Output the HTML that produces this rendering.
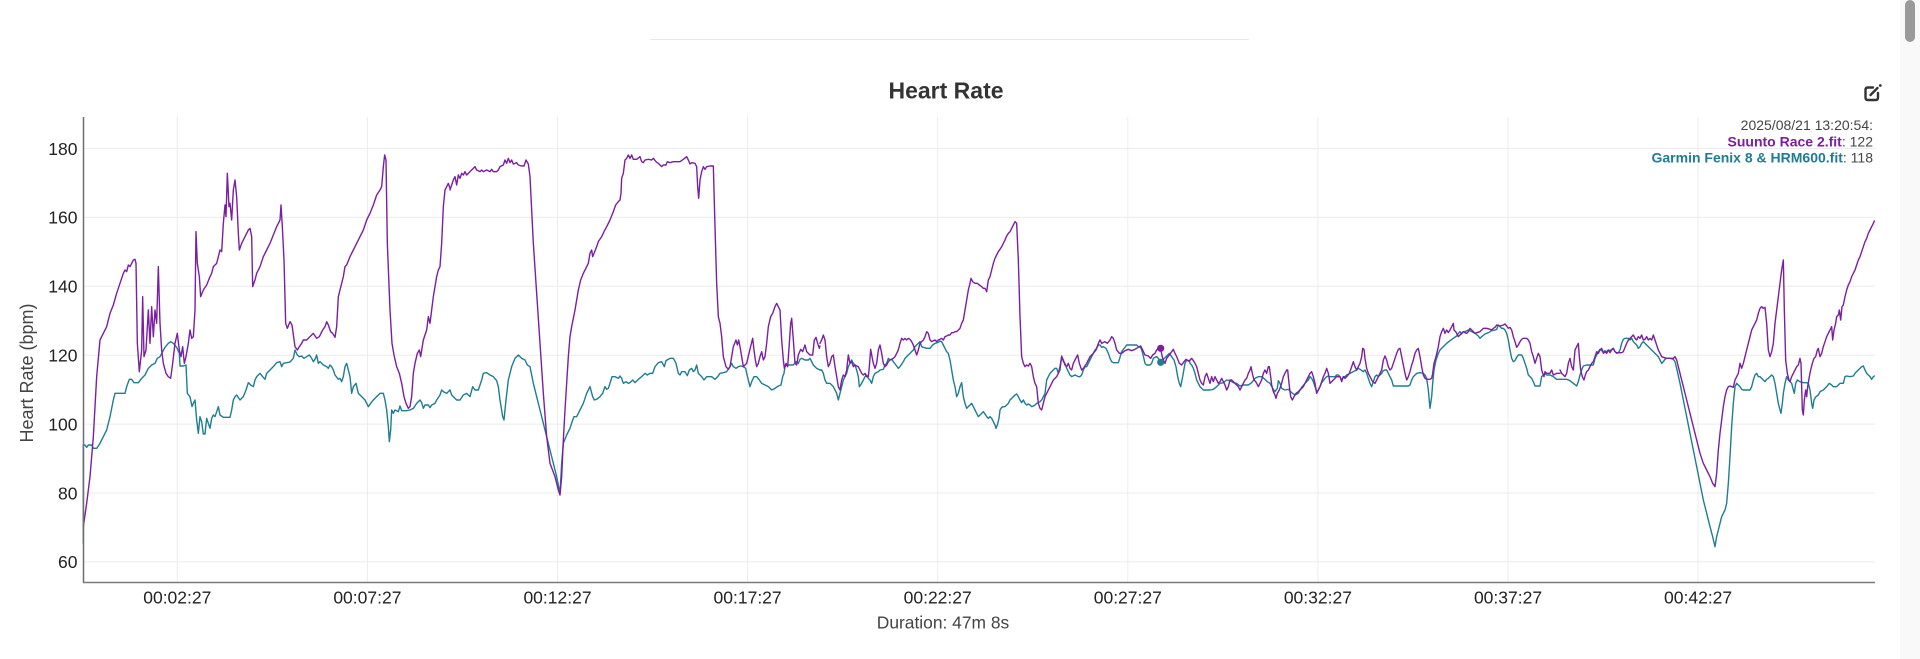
<!DOCTYPE html>
<html>
<head>
<meta charset="utf-8">
<style>
html,body{margin:0;padding:0;background:#fff;}
body{width:1920px;height:659px;overflow:hidden;font-family:"Liberation Sans",Arial,sans-serif;}
svg{display:block;}
.d{fill:none;stroke-width:1.4;stroke-linejoin:round;stroke-linecap:round;}
.p{stroke:#7b1fa2;}
.t{stroke:#1f7d91;}
</style>
</head>
<body>
<svg width="1920" height="659" viewBox="0 0 1920 659" xmlns="http://www.w3.org/2000/svg" font-family="Liberation Sans, Arial, sans-serif">
<rect x="0" y="0" width="1920" height="659" fill="#fff"/>
<!-- scrollbar strip -->
<rect x="1900" y="0" width="20" height="659" fill="#f9f9f9"/>
<rect x="1905" y="0" width="10" height="42" rx="5" fill="#9a9a9a"/>
<!-- top divider -->
<line x1="650" y1="39.5" x2="1249" y2="39.5" stroke="#e8e8e8" stroke-width="1"/>
<!-- title -->
<text x="946" y="98.3" text-anchor="middle" font-weight="bold" font-size="23" fill="#333">Heart Rate</text>
<!-- edit icon -->
<g fill="none" stroke="#333" stroke-width="2.4" stroke-linecap="round" stroke-linejoin="round">
<path d="M1873 87.5 H1868 Q1865.5 87.5 1865.5 90 V97.5 Q1865.5 100 1868 100 H1875.5 Q1878 100 1878 97.5 V93"/>
<path d="M1870.5 95 L1877.5 88"/>
</g>
<circle cx="1880.3" cy="85.5" r="1.4" fill="#333"/>
<!-- gridlines -->
<g stroke="#ececec" stroke-width="1">
<line x1="84" y1="148.5" x2="1875" y2="148.5"/>
<line x1="84" y1="217.4" x2="1875" y2="217.4"/>
<line x1="84" y1="286.3" x2="1875" y2="286.3"/>
<line x1="84" y1="355.2" x2="1875" y2="355.2"/>
<line x1="84" y1="424.1" x2="1875" y2="424.1"/>
<line x1="84" y1="493" x2="1875" y2="493"/>
<line x1="84" y1="561.9" x2="1875" y2="561.9"/>
<line x1="177.3" y1="117" x2="177.3" y2="582"/>
<line x1="367.4" y1="117" x2="367.4" y2="582"/>
<line x1="557.5" y1="117" x2="557.5" y2="582"/>
<line x1="747.6" y1="117" x2="747.6" y2="582"/>
<line x1="937.7" y1="117" x2="937.7" y2="582"/>
<line x1="1127.8" y1="117" x2="1127.8" y2="582"/>
<line x1="1317.9" y1="117" x2="1317.9" y2="582"/>
<line x1="1508" y1="117" x2="1508" y2="582"/>
<line x1="1698.1" y1="117" x2="1698.1" y2="582"/>
</g>
<!-- y tick labels -->
<g font-size="17.5" fill="#222" text-anchor="end">
<text x="77.5" y="154.8">180</text>
<text x="77.5" y="223.7">160</text>
<text x="77.5" y="292.6">140</text>
<text x="77.5" y="361.5">120</text>
<text x="77.5" y="430.4">100</text>
<text x="77.5" y="499.3">80</text>
<text x="77.5" y="568.2">60</text>
</g>
<text transform="translate(33,373) rotate(-90)" text-anchor="middle" font-size="18" fill="#444">Heart Rate (bpm)</text>
<!-- x tick labels -->
<g font-size="17.5" fill="#222" text-anchor="middle">
<text x="177.3" y="603.5">00:02:27</text>
<text x="367.4" y="603.5">00:07:27</text>
<text x="557.5" y="603.5">00:12:27</text>
<text x="747.6" y="603.5">00:17:27</text>
<text x="937.7" y="603.5">00:22:27</text>
<text x="1127.8" y="603.5">00:27:27</text>
<text x="1317.9" y="603.5">00:32:27</text>
<text x="1508" y="603.5">00:37:27</text>
<text x="1698.1" y="603.5">00:42:27</text>
</g>
<text x="943" y="628.5" text-anchor="middle" font-size="17.4" fill="#444">Duration: 47m 8s</text>

<!-- DATA: chunk 1 (x 80..450) -->
<g transform="translate(80,110) scale(0.333333)">
<polyline class="d t" vector-effect="non-scaling-stroke" points="10,1300 10,1005 15,1005 20,1012 25,1005 35,1005 40,1015 50,1015 60,1000 70,980 80,960 90,920 100,870 105,850 120,850 135,850 140,830 148,808 155,808 162,818 175,818 185,805 195,795 205,775 215,765 225,760 232,745 240,740 248,725 255,712 265,700 272,695 280,700 290,712 298,730 300,768 310,768 318,765 322,850 330,860 336,890 340,880 345,870 350,930 355,970 360,920 365,935 370,972 375,972 380,925 385,940 390,955 395,925 400,915 405,920 410,905 415,890 420,915 430,922 440,922 450,922 455,900 460,870 465,860 470,855 480,870 490,860 498,840 505,818 512,825 520,830 525,810 530,800 540,790 548,800 555,808 560,790 570,780 580,770 590,758 600,755 605,770 610,760 620,758 630,756 640,745 645,720 652,735 658,740 665,738 672,745 680,740 688,735 695,745 700,755 705,748 710,735 715,760 720,755 730,765 740,770 745,775 750,765 755,770 760,780 765,795 775,808 780,805 785,815 790,800 795,770 800,760 805,780 810,800 815,850 820,830 828,820 835,850 845,860 855,870 865,890 872,880 880,870 890,860 900,850 910,850 915,870 920,900 925,950 928,995 932,960 935,900 940,910 945,900 955,905 960,888 965,902 980,902 990,900 1000,895 1010,880 1020,870 1025,878 1030,895 1035,885 1045,885 1050,893 1055,885 1065,880 1070,870 1080,855 1085,840 1090,845 1100,850 1110,840"/>
<polyline class="d p" vector-effect="non-scaling-stroke" points="10,1250 20,1180 30,1100 40,980 50,800 60,690 70,670 80,650 90,610 100,585 110,550 120,520 130,490 135,480 140,485 145,465 150,470 160,450 165,448 168,460 172,700 178,785 185,720 188,560 192,740 198,720 205,600 210,700 215,590 220,680 225,600 230,640 235,470 240,640 245,720 250,760 258,790 265,800 272,805 278,760 285,700 292,670 298,720 303,740 308,710 313,760 318,740 325,700 330,660 335,685 340,680 345,600 348,365 352,460 358,500 362,560 370,540 380,525 390,500 395,490 400,470 405,465 410,460 415,440 420,420 425,425 430,340 435,285 438,320 442,190 447,290 450,280 455,330 460,240 465,210 470,260 475,370 478,420 485,400 495,380 505,360 510,355 515,380 518,530 525,510 530,490 540,470 550,440 560,420 570,400 580,375 590,350 600,330 603,285 607,350 612,450 617,640 622,655 630,635 636,645 645,710 652,720 658,710 665,700 670,690 680,690 690,680 700,670 710,685 718,680 728,660 735,650 740,635 745,645 752,665 758,670 765,682 770,650 775,560 780,540 790,500 795,470 800,465 810,440 820,420 830,400 840,380 850,360 860,330 870,310 880,285 890,255 900,240 905,230 910,170 914,135 918,150 922,400 930,600 936,700 942,735 950,770 958,790 965,820 972,860 978,880 985,895 990,890 995,860 1000,790 1005,760 1012,730 1018,720 1022,740 1030,690 1040,660 1045,620 1050,640 1055,600 1060,560 1070,500 1075,480 1080,470 1085,400 1090,290 1095,240 1100,230 1105,220 1110,235"/>
</g>

<!-- chunk 2 (x 450..820) -->
<g transform="translate(450,110) scale(0.333333)">
<polyline class="d t" vector-effect="non-scaling-stroke" points="0,840 5,855 10,860 20,870 30,870 40,855 50,850 60,860 68,830 75,840 85,840 95,810 100,790 110,788 120,795 130,800 140,812 145,830 150,870 158,920 162,930 168,870 175,810 185,770 195,745 205,735 215,745 225,750 232,765 240,770 250,820 260,860 270,900 280,940 290,980 300,1020 310,1060 320,1100 330,1150 335,1060 340,1000 350,975 360,955 368,930 372,920 380,920 385,910 390,900 400,880 410,850 420,830 428,860 433,870 440,868 450,860 458,850 465,830 470,838 475,835 480,820 486,800 495,800 505,805 510,798 515,805 520,820 528,815 535,820 540,818 548,810 555,818 565,808 575,800 585,790 592,795 600,790 608,790 615,770 625,758 635,755 643,770 648,752 660,745 670,745 678,760 685,790 690,795 695,785 705,785 712,797 718,780 725,775 730,785 735,780 740,765 745,790 755,800 762,810 770,800 778,800 785,800 795,808 803,800 810,790 820,788 830,785 840,770 845,760 850,770 858,775 865,770 872,768 880,770 887,775 890,790 895,810 900,830 905,815 912,800 920,800 928,810 935,820 945,825 955,830 965,840 975,835 985,828 993,825 998,800 1002,790 1005,770 1010,765 1020,765 1030,765 1038,755 1045,760 1050,748 1055,745 1065,750 1075,750 1080,745 1090,765 1100,775 1110,780"/>
<polyline class="d p" vector-effect="non-scaling-stroke" points="0,240 5,225 10,210 15,200 20,225 25,195 30,205 35,190 40,195 45,185 50,195 55,190 60,185 70,175 75,170 80,180 90,185 95,180 100,185 110,180 120,185 125,178 130,185 140,185 145,180 150,170 160,165 165,150 170,160 175,145 180,158 185,150 190,162 200,158 205,165 215,168 222,168 228,150 235,162 240,200 245,300 250,400 260,550 270,700 280,850 290,980 300,1060 315,1100 325,1140 330,1155 335,1100 340,990 345,900 350,820 355,740 360,680 365,650 375,600 385,540 392,510 400,490 410,470 415,460 420,430 425,420 428,440 432,430 440,410 445,395 455,380 462,365 470,350 480,330 490,305 497,285 505,275 510,270 513,250 515,205 520,190 525,150 530,145 535,135 540,145 545,135 550,148 560,148 570,140 575,155 580,158 585,150 595,148 605,150 610,145 618,155 625,160 630,165 635,170 640,165 648,165 652,155 660,158 670,155 680,155 690,155 700,148 710,140 715,150 720,162 725,158 735,160 740,170 743,230 746,265 750,210 755,185 760,170 765,178 770,170 780,168 790,168 795,350 800,520 805,620 810,640 815,680 820,740 828,770 835,778 840,770 845,740 850,710 858,690 862,705 866,690 870,710 875,740 880,770 890,760 897,730 903,705 908,685 912,720 916,750 920,770 925,760 930,740 935,725 940,750 945,740 950,700 955,650 962,620 968,610 975,590 980,580 985,590 990,600 995,690 1000,750 1003,775 1008,760 1013,770 1018,700 1022,640 1025,625 1030,690 1035,760 1040,765 1045,735 1052,718 1058,725 1065,705 1070,725 1080,735 1088,735 1093,690 1098,682 1103,700 1108,715 1110,708"/>
</g>

<!-- chunk 3 (x 820..1190) -->
<g transform="translate(820,110) scale(0.333333)">
<polyline class="d t" vector-effect="non-scaling-stroke" points="0,780 5,780 10,790 15,810 20,820 30,820 40,830 45,840 50,850 55,870 60,850 65,830 70,810 75,800 80,790 85,770 90,760 95,750 100,760 105,765 110,780 115,800 118,830 122,825 130,810 135,800 140,795 145,805 150,810 155,820 160,800 165,790 175,785 180,780 190,778 195,765 200,760 205,745 210,750 215,748 220,755 230,768 235,775 240,770 250,755 255,745 260,740 270,730 275,725 280,720 285,710 290,705 295,700 300,695 305,710 310,712 320,715 330,715 338,705 345,700 355,697 360,693 365,695 370,705 375,715 380,725 385,730 390,750 395,780 400,810 405,830 410,860 415,850 420,830 425,818 430,860 435,880 440,895 445,890 450,885 455,880 460,890 465,900 470,910 475,920 480,915 485,910 490,905 495,912 500,920 505,925 510,920 515,925 520,935 525,945 528,955 532,945 537,925 540,900 545,892 550,890 555,890 560,885 565,880 570,870 575,865 580,860 585,855 590,852 595,860 600,870 605,878 610,870 615,880 620,885 625,882 630,885 635,890 640,888 645,885 650,880 655,878 660,875 665,870 670,860 675,850 680,810 685,800 690,790 695,785 700,780 705,775 710,775 715,790 720,780 725,738 730,755 735,760 740,775 745,785 750,795 755,800 765,795 775,800 780,800 785,795 790,780 795,770 800,770 805,760 810,750 815,740 820,730 825,720 830,715 835,705 840,705 845,712 850,710 858,715 865,730 870,745 875,755 880,758 890,758 895,758 900,742 905,725 910,718 915,712 920,705 930,705 940,705 950,705 955,710 962,712 968,730 975,760 980,765 990,765 995,760 1000,745 1005,742 1010,740 1015,745 1022,757 1030,748 1040,738 1048,730 1055,740 1062,750 1068,770 1073,800 1078,820 1082,830 1088,800 1095,760 1100,750 1108,755 1110,758"/>
<polyline class="d p" vector-effect="non-scaling-stroke" points="0,700 5,690 10,675 15,690 20,740 25,770 30,760 35,740 40,735 45,770 50,800 55,830 60,840 65,810 70,795 75,800 80,780 85,735 90,760 95,755 100,770 105,765 110,768 115,770 120,780 125,790 130,795 135,790 140,800 145,800 148,770 152,718 156,740 160,760 165,775 170,760 175,720 180,705 185,730 190,760 195,770 200,765 205,755 210,750 220,745 225,740 230,730 235,720 240,700 245,685 250,690 255,685 260,690 265,685 270,688 275,695 280,705 285,720 290,735 295,720 300,700 305,695 310,690 315,680 320,665 325,670 330,690 335,695 340,692 345,690 350,695 355,690 360,688 365,685 370,690 375,680 380,678 385,675 390,675 395,668 400,668 405,665 410,665 415,660 420,655 425,640 430,630 435,600 440,570 445,540 450,520 453,505 458,515 465,520 472,520 478,525 485,530 490,535 495,535 500,545 505,510 510,500 515,480 520,460 525,445 530,435 535,425 540,418 545,410 550,400 555,390 560,378 565,370 570,365 575,355 580,345 585,335 590,340 595,450 600,620 605,740 610,760 615,770 620,765 625,768 630,760 635,770 640,800 645,820 650,830 655,880 660,895 665,900 670,880 675,860 680,850 690,830 700,810 710,800 715,790 720,770 725,740 730,750 735,765 740,770 745,760 750,775 755,780 760,760 765,750 770,740 773,735 778,760 785,780 790,775 800,760 810,740 820,730 828,720 835,700 840,690 845,700 855,695 862,700 870,690 875,680 880,685 885,700 890,720 898,730 905,730 915,722 925,718 935,722 945,718 955,712 962,708 968,720 975,735 985,738 992,745 998,735 1005,730 1010,720 1015,715 1022,718 1028,745 1035,760 1040,745 1048,735 1055,725 1060,718 1065,730 1070,740 1078,760 1085,765 1092,755 1098,748 1105,752 1110,752"/>
</g>

<!-- chunk 4 (x 1190..1560) -->
<g transform="translate(1190,110) scale(0.333333)">
<polyline class="d t" vector-effect="non-scaling-stroke" points="0,760 5,765 10,775 15,790 20,810 30,830 40,840 50,840 60,840 70,838 80,830 90,820 100,818 110,810 120,812 130,818 140,820 150,828 158,825 165,825 175,825 185,818 195,805 205,800 215,800 225,808 232,815 240,820 248,835 255,845 262,835 265,812 270,820 275,835 285,840 295,838 305,848 315,855 325,850 330,840 335,832 345,820 355,810 360,800 365,805 370,815 375,830 380,845 385,840 390,830 395,818 400,812 405,805 410,800 415,798 420,800 425,800 435,800 440,795 445,795 450,800 455,810 460,800 465,800 470,795 480,790 490,785 500,780 505,775 510,778 520,785 525,780 530,790 535,805 540,820 545,830 550,815 555,800 560,795 565,800 570,795 575,790 580,782 585,780 590,780 595,790 600,800 605,810 610,828 620,828 630,828 640,828 650,828 655,828 660,825 665,810 670,800 675,795 680,790 690,788 700,790 705,795 710,805 715,840 720,895 725,860 728,820 732,780 738,750 745,730 750,720 760,710 770,700 780,692 790,685 800,678 805,670 810,665 815,672 820,665 825,665 835,660 845,665 855,670 865,678 870,685 875,680 885,672 895,668 905,662 915,660 920,658 925,645 930,650 935,655 940,655 945,660 950,670 955,690 960,720 965,745 970,755 975,752 980,742 985,735 995,735 1000,745 1005,760 1010,775 1015,795 1020,800 1025,805 1030,815 1035,828 1040,828 1045,828 1050,828 1055,800 1060,795 1065,790 1070,795 1080,795 1090,800 1100,808 1110,808"/>
<polyline class="d p" vector-effect="non-scaling-stroke" points="0,750 5,745 10,752 15,760 20,770 25,790 30,810 35,820 40,825 45,800 50,790 55,805 60,820 65,800 70,815 75,800 80,810 85,820 90,815 95,805 100,815 105,825 110,840 115,830 120,810 125,810 130,815 135,820 140,825 145,830 150,840 155,830 160,820 165,810 170,805 175,790 180,780 183,770 187,790 192,810 197,815 200,820 205,830 210,820 215,810 220,790 225,780 230,790 235,770 238,770 242,800 245,825 250,845 255,855 258,865 262,850 268,840 275,820 280,800 285,790 290,780 293,780 297,820 302,860 307,870 312,860 318,850 325,845 330,840 335,835 340,830 345,820 350,810 355,800 360,790 365,785 370,800 375,820 380,850 385,840 390,830 395,815 400,800 405,790 410,775 415,790 420,820 425,815 430,810 440,800 450,800 455,815 460,800 465,805 470,800 478,790 485,770 490,755 495,770 500,780 505,770 510,760 515,740 518,715 522,718 525,745 530,775 535,790 540,800 548,815 555,820 560,810 565,800 570,790 575,780 580,750 585,738 590,750 595,770 600,780 605,775 610,760 615,745 620,730 625,718 630,715 635,740 640,765 645,790 650,810 655,800 660,785 665,765 670,750 675,730 680,720 685,715 690,740 695,770 700,795 705,805 710,808 720,808 725,805 728,790 732,760 738,740 745,710 750,680 755,665 760,655 765,670 770,660 775,668 780,660 785,650 790,640 792,660 797,665 800,670 805,680 810,675 815,670 820,665 825,668 830,670 835,665 840,655 845,660 850,665 855,670 860,668 870,665 875,660 880,655 890,655 900,658 905,660 910,655 915,652 920,645 930,648 940,645 945,642 950,648 955,655 960,652 965,660 970,680 975,695 980,712 985,705 990,695 995,688 1000,685 1010,685 1015,690 1020,700 1025,725 1030,740 1035,760 1040,745 1045,730 1050,740 1055,780 1058,790 1062,800 1065,785 1070,790 1080,790 1085,780 1090,795 1100,790 1110,790"/>
</g>

<!-- chunk 5 (x 1560..1875) -->
<g transform="translate(1560,110) scale(0.333333)">
<polyline class="d t" vector-effect="non-scaling-stroke" points="0,808 10,808 20,808 30,812 40,820 50,828 55,815 60,795 65,780 70,768 80,765 90,765 100,765 105,745 110,735 115,725 120,718 125,722 130,725 135,722 140,725 145,720 150,722 155,718 160,715 165,725 170,730 175,728 180,720 185,700 190,688 195,685 200,685 205,685 210,690 215,685 220,695 225,700 230,705 235,715 240,710 245,700 250,695 255,700 260,705 265,710 270,715 275,720 280,725 285,730 290,735 295,740 300,750 305,760 310,755 315,748 320,745 330,745 340,748 345,755 350,775 360,820 370,870 380,920 390,970 400,1020 410,1070 420,1120 430,1170 440,1210 450,1250 458,1280 465,1310 470,1280 475,1260 480,1240 485,1220 490,1210 495,1200 500,1180 505,1120 510,1040 515,950 520,880 525,830 530,820 535,825 540,830 545,838 550,840 560,840 570,840 575,830 580,810 585,795 590,790 595,800 600,800 605,805 610,810 615,815 620,808 625,805 630,800 635,795 640,800 645,820 650,850 655,880 660,900 663,910 667,880 670,850 675,820 680,800 685,810 690,815 695,820 700,840 703,850 707,820 712,810 720,815 730,818 740,818 745,820 750,840 755,880 758,895 762,870 768,860 775,855 780,845 790,840 800,830 808,820 815,825 820,830 830,830 840,820 850,820 855,800 860,798 870,800 880,798 885,790 890,785 895,780 900,775 905,770 910,768 915,780 920,790 925,795 930,800 935,808 940,800 943,798"/>
<polyline class="d p" vector-effect="non-scaling-stroke" points="0,780 5,790 10,795 15,800 20,790 25,760 30,745 35,770 40,780 45,720 50,710 55,700 58,740 62,780 67,800 72,810 76,795 80,785 85,780 90,770 95,760 100,755 105,740 110,725 115,730 120,720 125,715 130,730 135,725 140,730 145,720 150,728 155,720 160,715 165,725 170,728 175,728 180,728 185,728 190,725 195,712 200,700 205,690 210,685 215,680 220,675 225,685 230,690 235,680 240,685 245,675 250,690 255,688 260,680 265,690 270,685 275,690 280,675 285,690 290,705 295,720 300,730 305,740 310,742 320,745 330,745 340,745 345,740 350,750 360,790 370,830 380,870 390,910 400,950 410,990 420,1030 430,1060 440,1080 450,1100 458,1120 465,1130 470,1090 475,1020 480,970 485,930 490,890 495,860 500,840 505,830 510,828 515,830 520,832 525,810 530,800 535,790 540,760 545,775 550,760 555,740 560,720 565,700 570,680 575,660 580,650 585,640 590,630 595,610 600,595 605,590 610,595 615,592 620,640 625,720 630,740 635,725 640,700 645,640 650,600 655,560 660,520 665,480 670,450 673,600 677,750 682,790 687,810 690,815 695,800 700,790 705,780 710,770 715,765 720,745 723,760 727,900 730,915 733,870 737,840 740,860 743,830 748,800 752,780 757,760 762,745 767,740 772,720 775,715 780,740 785,730 790,710 795,695 800,680 805,670 810,660 815,650 818,690 822,660 827,640 830,620 835,615 838,600 842,630 846,590 850,585 855,560 860,540 865,525 870,515 875,500 880,490 885,480 890,465 895,450 900,440 905,425 910,410 915,395 920,385 925,370 930,360 935,350 940,340 943,333"/>
</g>

<!-- axes -->
<line x1="83.5" y1="117" x2="83.5" y2="583" stroke="#6e6e6e" stroke-width="1.5"/>
<line x1="83" y1="582.5" x2="1875" y2="582.5" stroke="#7a7a7a" stroke-width="1.5"/>

<!-- hover markers -->
<circle cx="1160.7" cy="348.3" r="3.6" fill="#7b1fa2"/>
<circle cx="1160.7" cy="362.3" r="3.6" fill="#1f7d91"/>

<!-- legend -->
<g font-size="14" text-anchor="end" fill="#444">
<text x="1873" y="130">2025/08/21 13:20:54:</text>
<text x="1873" y="146.7"><tspan fill="#7b1fa2" font-weight="bold">Suunto Race 2.fit</tspan>: 122</text>
<text x="1873" y="162.3"><tspan fill="#1f7d91" font-weight="bold">Garmin Fenix 8 &amp; HRM600.fit</tspan>: 118</text>
</g>
</svg>
</body>
</html>
